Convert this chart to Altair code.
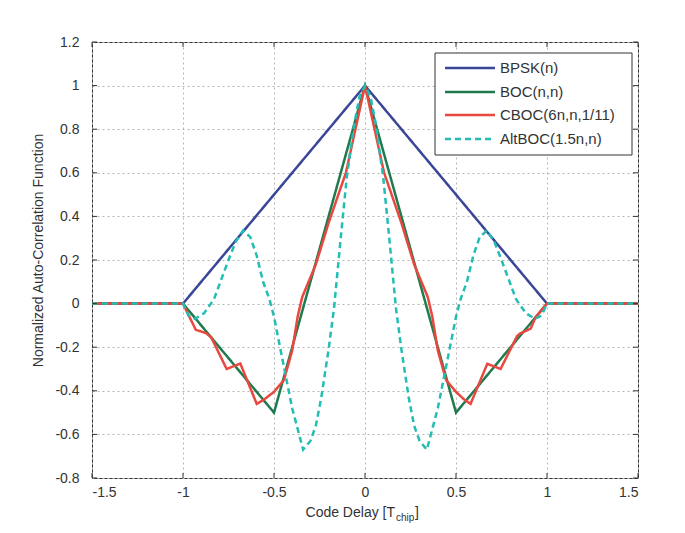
import altair as alt
import pandas as pd

# ---------------- data ----------------
series_names = ["BPSK(n)", "BOC(n,n)", "CBOC(6n,n,1/11)", "AltBOC(1.5n,n)"]
series_colors = ["#3a4696", "#1f7b4d", "#e8483f", "#22bdb3"]
series_dash = [[1, 0], [1, 0], [1, 0], [6, 4]]

bpsk_x = [-1.5, -1.0, 0.0, 1.0, 1.5]
bpsk_y = [0.0, 0.0, 1.0, 0.0, 0.0]

boc_x = [-1.5, -1.0, -0.5, 0.0, 0.5, 1.0, 1.5]
boc_y = [0.0, 0.0, -0.5, 1.0, -0.5, 0.0, 0.0]

cboc_x = [-1.5, -1.0, -0.93, -0.875, -0.845, -0.76, -0.685, -0.595, -0.555, -0.50,
          -0.445, -0.40, -0.37, -0.345, -0.27, -0.20, -0.105, 0.0,
          0.105, 0.20, 0.27, 0.345, 0.37, 0.40, 0.445, 0.50, 0.545, 0.58,
          0.672, 0.745, 0.835, 0.85, 0.91, 0.938, 1.0, 1.5]
cboc_y = [0.0, 0.0, -0.12, -0.135, -0.155, -0.30, -0.275, -0.46, -0.44, -0.405,
          -0.35, -0.215, -0.06, 0.03, 0.18, 0.37, 0.60, 1.0,
          0.60, 0.37, 0.18, 0.03, -0.06, -0.215, -0.35, -0.405, -0.44, -0.46,
          -0.276, -0.30, -0.15, -0.138, -0.115, -0.061, 0.0, 0.0]

altboc_x = [-1.5, -1.0, -0.97, -0.935, -0.885, -0.83, -0.79, -0.75, -0.71, -0.67,
            -0.63, -0.595, -0.56, -0.525, -0.50, -0.455, -0.40, -0.34, -0.30, -0.27,
            -0.24, -0.20, -0.17, -0.13, -0.10, -0.06, -0.03, 0.0,
            0.03, 0.06, 0.10, 0.13, 0.17, 0.20, 0.24, 0.27, 0.30, 0.34,
            0.40, 0.455, 0.50, 0.525, 0.56, 0.595, 0.63, 0.67, 0.71, 0.75,
            0.79, 0.83, 0.885, 0.935, 0.97, 1.0, 1.5]
altboc_y = [0.0, 0.0, -0.055, -0.07, -0.045, 0.02, 0.11, 0.20, 0.285, 0.335,
            0.305, 0.22, 0.10, 0.02, -0.06, -0.25, -0.48, -0.67, -0.63, -0.56,
            -0.43, -0.21, -0.02, 0.33, 0.58, 0.82, 0.95, 1.0,
            0.95, 0.82, 0.58, 0.33, -0.02, -0.21, -0.43, -0.56, -0.63, -0.67,
            -0.48, -0.25, -0.06, 0.02, 0.10, 0.22, 0.305, 0.335, 0.285, 0.20,
            0.11, 0.02, -0.045, -0.07, -0.055, 0.0, 0.0]

x_ticks = [-1.5, -1.0, -0.5, 0.0, 0.5, 1.0, 1.5]
y_ticks = [-0.8, -0.6, -0.4, -0.2, 0.0, 0.2, 0.4, 0.6, 0.8, 1.0, 1.2]

# ---------------- build table ----------------
rows = []
for name, xs, ys in zip(series_names,
                        [bpsk_x, boc_x, cboc_x, altboc_x],
                        [bpsk_y, boc_y, cboc_y, altboc_y]):
    for i, (xv, yv) in enumerate(zip(xs, ys)):
        rows.append({"series": name, "x": xv, "y": yv, "i": i})
df = pd.DataFrame(rows)

FONT = "Liberation Sans"
W, H = 546, 436

xscale = alt.Scale(domain=[-1.5, 1.5], nice=False, zero=False)
yscale = alt.Scale(domain=[-0.8, 1.2], nice=False, zero=False)

lines = alt.Chart(df).mark_line(strokeWidth=2.5).encode(
    x=alt.X("x:Q", scale=xscale,
            axis=alt.Axis(values=x_ticks, title=None,
                          labelExpr="toString(round(datum.value*10)/10)",
                          labelPadding=7)),
    y=alt.Y("y:Q", scale=yscale,
            axis=alt.Axis(values=y_ticks,
                          labelExpr="toString(round(datum.value*10)/10)",
                          labelPadding=13,
                          title="Normalized Auto-Correlation Function",
                          titleX=-54, titleY=208, titleAngle=-90,
                          titleAlign="center", titleBaseline="middle",
                          titleFontWeight="normal", titleFontSize=14,
                          titleFont=FONT, titleColor="#333")),
    color=alt.Color("series:N", scale=alt.Scale(domain=series_names, range=series_colors), legend=None),
    strokeDash=alt.StrokeDash("series:N", scale=alt.Scale(domain=series_names, range=series_dash), legend=None),
    order=alt.Order("i:Q"),
)

# inner Matlab-style ticks
xt = pd.DataFrame({"x": x_ticks})
yt = pd.DataFrame({"y": y_ticks})
tick_color = "#333"
ticks_bottom = alt.Chart(xt).mark_rule(color=tick_color, strokeWidth=1).encode(
    x=alt.X("x:Q", scale=xscale), y=alt.value(H - 5), y2=alt.value(H))
ticks_top = alt.Chart(xt).mark_rule(color=tick_color, strokeWidth=1).encode(
    x=alt.X("x:Q", scale=xscale), y=alt.value(0), y2=alt.value(5))
ticks_left = alt.Chart(yt).mark_rule(color=tick_color, strokeWidth=1).encode(
    y=alt.Y("y:Q", scale=yscale), x=alt.value(0), x2=alt.value(5))
ticks_right = alt.Chart(yt).mark_rule(color=tick_color, strokeWidth=1).encode(
    y=alt.Y("y:Q", scale=yscale), x=alt.value(W - 5), x2=alt.value(W))

# x-axis title with subscript
one = alt.Data(values=[{"a": 1}])
t1 = alt.Chart(one).mark_text(text="Code Delay [T", align="right", baseline="middle",
                              font=FONT, fontSize=14, color="#333").encode(
    x=alt.value(303), y=alt.value(471))
t2 = alt.Chart(one).mark_text(text="chip", align="left", baseline="middle",
                              font=FONT, fontSize=10, color="#333").encode(
    x=alt.value(304), y=alt.value(476))
t3 = alt.Chart(one).mark_text(text="]", align="left", baseline="middle",
                              font=FONT, fontSize=14, color="#333").encode(
    x=alt.value(323), y=alt.value(471))

# manual legend
lx0, lx1, ly0, ly1 = 343, 540, 11, 113
legend_box = alt.Chart(one).mark_rect(fill="white", stroke="#333", strokeWidth=1).encode(
    x=alt.value(lx0), x2=alt.value(lx1), y=alt.value(ly0), y2=alt.value(ly1))
legend_layers = [legend_box]
row_y = [26, 50, 73, 97]
for name, col, dash, ry in zip(series_names, series_colors, series_dash, row_y):
    legend_layers.append(
        alt.Chart(one).mark_rule(color=col, strokeWidth=2.5, strokeDash=dash).encode(
            x=alt.value(353), x2=alt.value(403), y=alt.value(ry)))
    legend_layers.append(
        alt.Chart(one).mark_text(text=name, align="left", baseline="middle",
                                 font=FONT, fontSize=15, color="#333").encode(
            x=alt.value(408), y=alt.value(ry)))

chart = alt.layer(
    lines, ticks_bottom, ticks_top, ticks_left, ticks_right, t1, t2, t3, *legend_layers
).properties(
    width=W, height=H,
    autosize=alt.AutoSizeParams(type="none"),
    padding={"left": 84, "top": 34, "right": 38, "bottom": 46},
).configure_view(
    stroke="#333", strokeWidth=1
).configure_axis(
    grid=True, gridDash=[2, 3], gridColor="#b5b5b5", gridWidth=1,
    domain=False, ticks=False, tickSize=0,
    labelFont=FONT, labelFontSize=14, labelColor="#333",
)

chart.save("out.html", embed_options={"renderer": "svg", "actions": False})
